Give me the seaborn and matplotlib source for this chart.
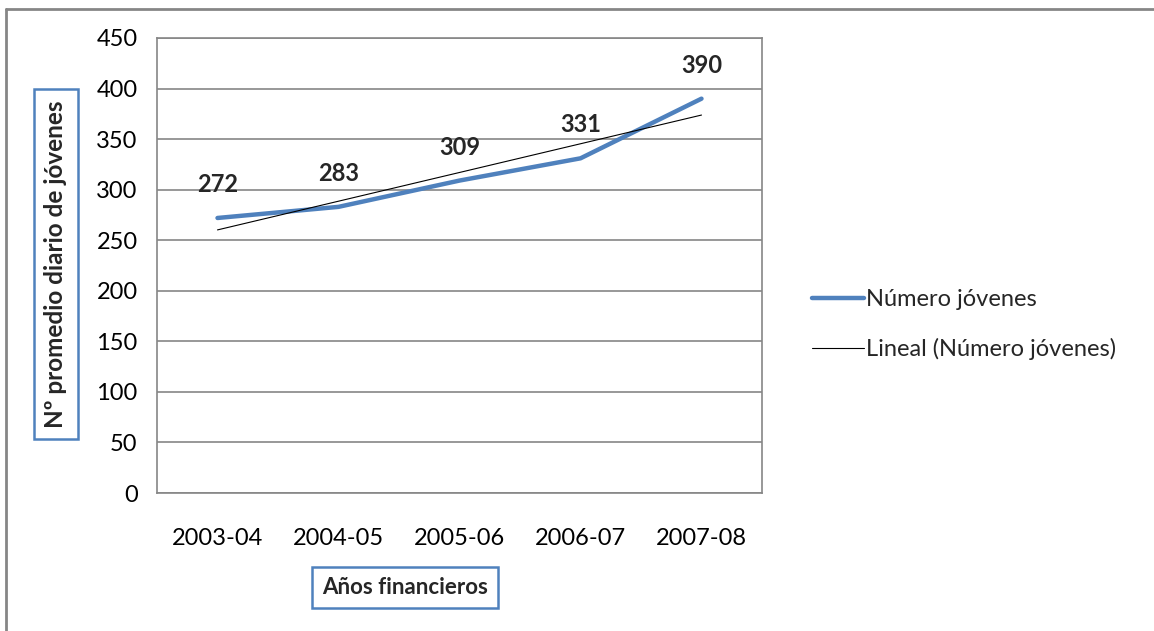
import numpy as np
import pandas as pd
import seaborn as sb
import matplotlib.pyplot as plt
from matplotlib.lines import Line2D

#### data
years = ["2003-04", "2004-05", "2005-06", "2006-07", "2007-08"]
jovenes = [272, 283, 309, 331, 390]

sb.set_style("white")
plt.rcParams['font.family'] = ['Lato', 'DejaVu Sans']

blue = '#4F81BD'
grey = '#868686'
fs = 17

fig = plt.figure(figsize=(11.54, 6.31), dpi=100)
ax = fig.add_axes([157/1154, 1-493/631, (762-157)/1154, (493-38)/631])

df = pd.DataFrame({"year": years, "x": range(len(years)), "n": jovenes})

# linear trend, as excel does it
coef = np.polyfit(df["x"], df["n"], 1)
df["trend"] = np.polyval(coef, df["x"])

sb.lineplot(data=df, x="x", y="n", ax=ax, color=blue, linewidth=3.2,
            label="Número jóvenes", solid_capstyle='round')
sb.lineplot(data=df, x="x", y="trend", ax=ax, color='black', linewidth=0.8,
            label="Lineal (Número jóvenes)")

for xi, v in zip(df["x"], df["n"]):
	ax.annotate(str(v), (xi, v), xytext=(0, 24), textcoords='offset points',
	            ha='center', va='center', fontsize=fs, fontweight='bold')

ax.set_xlim(-0.5, len(years)-0.5)
ax.set_ylim(0, 450)
ax.set_yticks(range(0, 451, 50))
ax.set_xticks(range(len(years)))
ax.set_xticklabels(years)
ax.tick_params(axis='both', length=0, labelsize=fs, colors='black')
ax.tick_params(axis='x', pad=25)
ax.tick_params(axis='y', pad=14)
ax.grid(axis='y', color=grey, linewidth=1.2)
ax.set_axisbelow(True)
for s in ax.spines.values():
	s.set_color(grey)
	s.set_linewidth(1.2)
ax.set_xlabel("")
ax.set_ylabel("")

# axis titles in boxes
fig.text(56/1154, 1-264/631, "Nº promedio diario de jóvenes", rotation=90,
         ha='center', va='center', fontsize=17.5, fontweight='bold',
         bbox=dict(boxstyle='square,pad=0.45', fc='white', ec=blue, lw=1.8))
fig.text(405/1154, 1-587/631, "Años financieros",
         ha='center', va='center', fontsize=16, fontweight='bold',
         bbox=dict(boxstyle='square,pad=0.45', fc='white', ec=blue, lw=1.8))

ax.legend(loc='center left', bbox_to_anchor=(1.047, 0.37), frameon=False,
          fontsize=fs, handlelength=2.2, handletextpad=0.1, labelspacing=1.2)

# outer chart frame
fig.add_artist(Line2D([6/1154, 6/1154], [0, 1-9/631], color=grey, lw=2))
fig.add_artist(Line2D([6/1154, 1], [1-9/631, 1-9/631], color=grey, lw=2))

fig.savefig("out.png", dpi=100)
